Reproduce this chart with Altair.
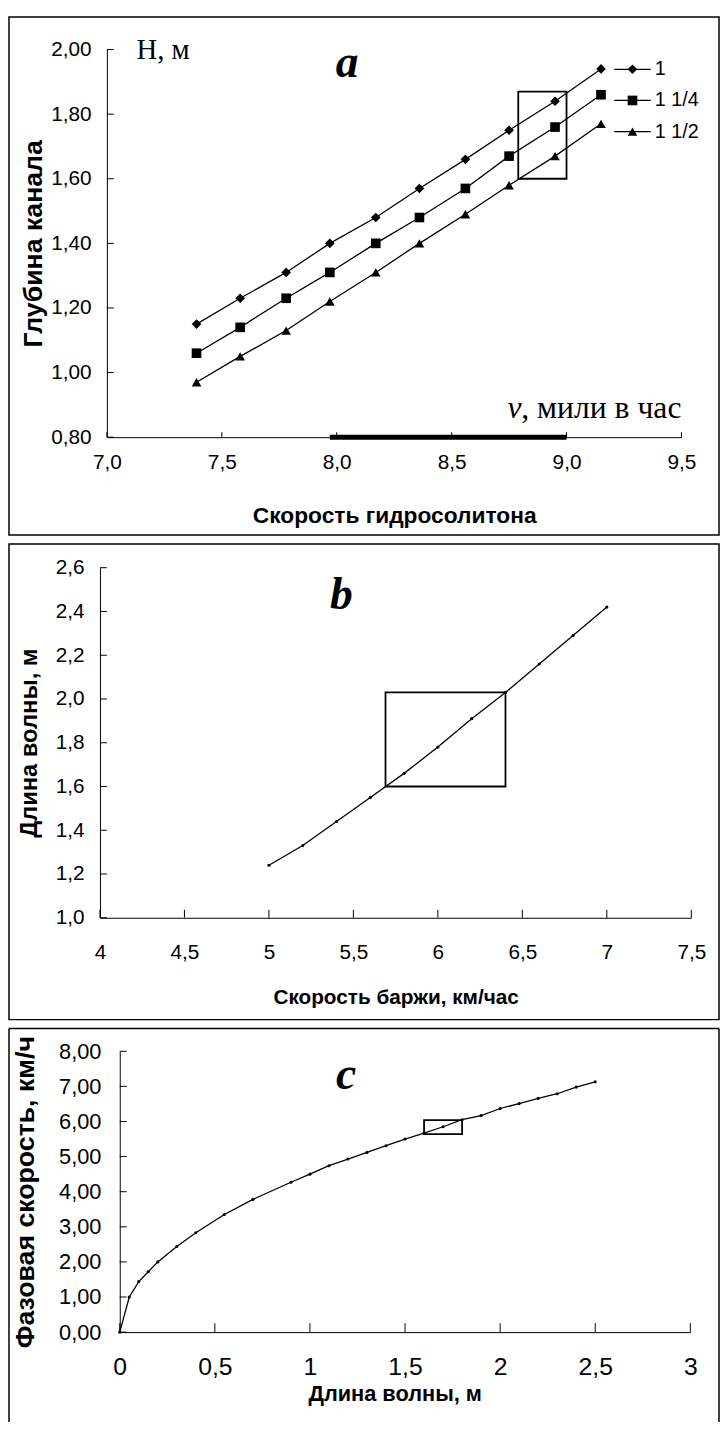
import altair as alt
import pandas as pd

# ---------------- Panel a data ----------------
a_speed = [7.39, 7.58, 7.78, 7.97, 8.17, 8.36, 8.56, 8.75, 8.95, 9.15]
a_series = ["1", "1 1/4", "1 1/2"]
a_depth_1 = [1.15, 1.23, 1.31, 1.40, 1.48, 1.57, 1.66, 1.75, 1.84, 1.94]
a_depth_2 = [1.06, 1.14, 1.23, 1.31, 1.40, 1.48, 1.57, 1.67, 1.76, 1.86]
a_depth_3 = [0.97, 1.05, 1.13, 1.22, 1.31, 1.40, 1.49, 1.58, 1.67, 1.77]
a_x_ticks = [7.0, 7.5, 8.0, 8.5, 9.0, 9.5]
a_y_ticks = [0.8, 1.0, 1.2, 1.4, 1.6, 1.8, 2.0]
a_box_x = [8.79, 9.00]
a_box_y = [1.60, 1.87]
a_bar_x = [7.97, 9.00]

# ---------------- Panel b data ----------------
b_speed = [5.0, 5.2, 5.4, 5.6, 5.8, 6.0, 6.2, 6.4, 6.6, 6.8, 7.0]
b_length = [1.24, 1.33, 1.44, 1.55, 1.66, 1.78, 1.91, 2.03, 2.16, 2.29, 2.42]
b_x_ticks = [4, 4.5, 5, 5.5, 6, 6.5, 7, 7.5]
b_y_ticks = [1.0, 1.2, 1.4, 1.6, 1.8, 2.0, 2.2, 2.4, 2.6]
b_box_x = [5.69, 6.40]
b_box_y = [1.60, 2.03]

# ---------------- Panel c data ----------------
c_length = [0, 0.05, 0.1, 0.15, 0.2, 0.3, 0.4, 0.55, 0.7, 0.9, 1.0, 1.1, 1.2,
            1.3, 1.4, 1.5, 1.6, 1.7, 1.8, 1.9, 2.0, 2.1, 2.2, 2.3, 2.4, 2.5]
c_speed = [0, 1.0, 1.44, 1.72, 2.0, 2.44, 2.83, 3.35, 3.78, 4.27, 4.5, 4.74, 4.93,
           5.12, 5.31, 5.5, 5.67, 5.85, 6.05, 6.17, 6.37, 6.51, 6.66, 6.79, 6.98, 7.13]
c_x_ticks = [0, 0.5, 1, 1.5, 2, 2.5, 3]
c_y_ticks = [0, 1, 2, 3, 4, 5, 6, 7, 8]
c_box_x = [1.60, 1.80]
c_box_y = [5.64, 6.04]

LABEL_FONT = "Liberation Sans Narrow, Liberation Sans, Arial"
TITLE_FONT = "Liberation Sans, Arial"
SERIF = "Liberation Serif, Times New Roman"
FW = 718  # panel frame width
LW = 1.3  # data line width


def axis(values, fmt, lsize, lpad, title, tsize, **kw):
    return alt.Axis(
        values=values,
        labelExpr=f"replace(format(datum.value, '{fmt}'), '.', ',')",
        labelFont=LABEL_FONT, labelFontSize=lsize, labelColor="black",
        labelPadding=lpad, labelFlush=False, labelOverlap=False,
        ticks=False, tickSize=0, grid=False,
        domainColor="black", domainWidth=1,
        title=title, titleFont=TITLE_FONT, titleFontSize=tsize,
        titleFontWeight="bold", titleColor="black", **kw)


def one(**cols):
    return pd.DataFrame({k: [v] for k, v in cols.items()})


def label(text, x, y, **kw):
    return alt.Chart(one(t=text)).mark_text(color="black", **kw).encode(
        text="t:N", x=alt.value(x), y=alt.value(y))


def rule(x1, x2, y1, y2, w=1.5):
    return alt.Chart(one(f=0)).mark_rule(color="black", strokeWidth=w).encode(
        x=alt.value(x1), x2=alt.value(x2), y=alt.value(y1), y2=alt.value(y2))


def frame(h):
    return alt.Chart(one(f=0)).mark_rect(
        fillOpacity=0, stroke="black", strokeWidth=1.5).encode(
        x=alt.value(0), x2=alt.value(FW), y=alt.value(0), y2=alt.value(h))


def ticks(vals, enc, pos, length, xdir):
    df = pd.DataFrame({"t": vals})
    if xdir:
        return alt.Chart(df).mark_rule(color="black").encode(
            x=enc("t"), y=alt.value(pos), y2=alt.value(pos - length))
    return alt.Chart(df).mark_rule(color="black").encode(
        y=enc("t"), x=alt.value(pos), x2=alt.value(pos + length))


def box(bx, by, xe, ye):
    return alt.Chart(one(x1=bx[0], x2=bx[1], y1=by[0], y2=by[1])).mark_rect(
        fillOpacity=0, stroke="black", strokeWidth=1.8).encode(
        x=xe("x1"), x2="x2", y=ye("y1"), y2="y2")


# ================= Panel a =================
HA = 524
AX0, AX1, AY0, AY1 = 99, 680, 425, 33       # plot range inside the frame
xa_scale = alt.Scale(domain=[7.0, 9.5], range=[AX0, AX1], nice=False, zero=False)
ya_scale = alt.Scale(domain=[0.8, 2.0], range=[AY0, AY1], nice=False, zero=False)
xa_axis = axis(a_x_ticks, ".1f", 21, 15, "Скорость гидросолитона", 23,
               offset=-(HA - AY0), titleY=86, titleBaseline="alphabetic")
ya_axis = axis(a_y_ticks, ".2f", 21, 16, "Глубина канала", 27,
               offset=-AX0, titleX=-74, titleAngle=270, titleBaseline="middle")


def xa(f):
    return alt.X(f, type="quantitative", scale=xa_scale, axis=xa_axis)


def ya(f):
    return alt.Y(f, type="quantitative", scale=ya_scale, axis=ya_axis)


df_a = pd.DataFrame({
    "speed": a_speed * 3,
    "depth": a_depth_1 + a_depth_2 + a_depth_3,
    "series": [s for s in a_series for _ in a_speed],
})
shape_scale = alt.Scale(domain=a_series, range=["diamond", "square", "triangle-up"])

a_bar = alt.Chart(one(x1=a_bar_x[0], x2=a_bar_x[1], y=a_y_ticks[0])).mark_rule(
    color="black", strokeWidth=5).encode(x=xa("x1"), x2="x2", y=ya("y"))

main_a = alt.layer(
    frame(HA),
    alt.Chart(df_a).mark_line(color="black", strokeWidth=LW).encode(
        x=xa("speed"), y=ya("depth"), detail="series:N"),
    alt.Chart(df_a).mark_point(filled=True, color="black", opacity=1, size=95).encode(
        x=xa("speed"), y=ya("depth"),
        shape=alt.Shape("series:N", scale=shape_scale, legend=None)),
    box(a_box_x, a_box_y, xa, ya),
    a_bar,
    ticks(a_x_ticks, xa, AY0, 5, True),
    ticks(a_y_ticks, ya, AX0, 7, False),
    label("H, м", 129, 43, font=SERIF, fontSize=29, align="left", baseline="alphabetic"),
    label("a", 342, 61, font=SERIF, fontSize=46, fontWeight="bold", fontStyle="italic",
          align="center", baseline="alphabetic"),
    label("v", 504, 406, font=SERIF, fontSize=32, fontStyle="italic", align="left",
          baseline="alphabetic"),
    label(", мили в час", 518, 406, font=SERIF, fontSize=32, align="left",
          baseline="alphabetic"),
)

df_leg = pd.DataFrame({"series": a_series})
leg_y = alt.Y("series:N", sort=a_series,
              scale=alt.Scale(type="point", domain=a_series, range=[53, 116], padding=0),
              axis=None)
legend_a = alt.layer(
    alt.Chart(df_leg).mark_rule(color="black", strokeWidth=LW).encode(
        y=leg_y, x=alt.value(612), x2=alt.value(649)),
    alt.Chart(df_leg).mark_point(filled=True, color="black", opacity=1, size=95).encode(
        y=leg_y, x=alt.value(630.5),
        shape=alt.Shape("series:N", scale=shape_scale, legend=None)),
    alt.Chart(df_leg).mark_text(align="left", baseline="middle", font=LABEL_FONT,
                                fontSize=20, color="black").encode(
        y=leg_y, x=alt.value(653), text="series:N"),
)
panel_a = alt.layer(main_a, legend_a).resolve_scale(y="independent").properties(
    width=FW, height=HA)

# ================= Panel b =================
HB = 481
BX0, BX1, BY0, BY1 = 92, 690, 378, 24
xb_scale = alt.Scale(domain=[4.0, 7.5], range=[BX0, BX1], nice=False, zero=False)
yb_scale = alt.Scale(domain=[1.0, 2.6], range=[BY0, BY1], nice=False, zero=False)
xb_axis = axis(b_x_ticks, "~g", 21, 24, "Скорость баржи, км/час", 21,
               offset=-(HB - BY0), titleY=87, titleBaseline="alphabetic")
yb_axis = axis(b_y_ticks, ".1f", 21, 16, "Длина волны, м", 24,
               offset=-BX0, titleX=-71, titleAngle=270, titleBaseline="middle")


def xb(f):
    return alt.X(f, type="quantitative", scale=xb_scale, axis=xb_axis)


def yb(f):
    return alt.Y(f, type="quantitative", scale=yb_scale, axis=yb_axis)


df_b = pd.DataFrame({"speed": b_speed, "length": b_length})
panel_b = alt.layer(
    frame(HB),
    alt.Chart(df_b).mark_line(color="black", strokeWidth=LW).encode(x=xb("speed"), y=yb("length")),
    alt.Chart(df_b).mark_point(filled=True, color="black", opacity=1, size=10, shape="circle").encode(
        x=xb("speed"), y=yb("length")),
    box(b_box_x, b_box_y, xb, yb),
    ticks(b_x_ticks, xb, BY0, 8, True),
    ticks(b_y_ticks, yb, BX0, 7, False),
    label("b", 336, 66, font=SERIF, fontSize=46, fontWeight="bold", fontStyle="italic",
          align="center", baseline="alphabetic"),
).properties(width=FW, height=HB)

# ================= Panel c =================
HC = 398
CX0, CX1, CY0, CY1 = 112, 689, 307, 23
xc_scale = alt.Scale(domain=[0, 3], range=[CX0, CX1], nice=False, zero=False)
yc_scale = alt.Scale(domain=[0, 8], range=[CY0, CY1], nice=False, zero=False)
xc_axis = axis(c_x_ticks, "~g", 25, 23, "Длина волны, м", 22,
               offset=-(HC - CY0), titleY=69, titleX=390, titleBaseline="alphabetic")
yc_axis = axis(c_y_ticks, ".2f", 22, 19, "Фазовая скорость, км/ч", 27,
               offset=-CX0, titleX=-95, titleAngle=270, titleBaseline="middle")


def xc(f):
    return alt.X(f, type="quantitative", scale=xc_scale, axis=xc_axis)


def yc(f):
    return alt.Y(f, type="quantitative", scale=yc_scale, axis=yc_axis)


df_c = pd.DataFrame({"length": c_length, "speed": c_speed})
panel_c = alt.layer(
    rule(0, 0, 0, HC),
    rule(0, FW, 0, 0),
    rule(FW, FW, 0, HC),
    alt.Chart(df_c).mark_line(color="black", strokeWidth=LW).encode(x=xc("length"), y=yc("speed")),
    alt.Chart(df_c).mark_point(filled=True, color="black", opacity=1, size=10, shape="circle").encode(
        x=xc("length"), y=yc("speed")),
    box(c_box_x, c_box_y, xc, yc),
    ticks(c_x_ticks, xc, CY0, 9, True),
    ticks(c_y_ticks, yc, CX0, 7, False),
    label("c", 341, 61, font=SERIF, fontSize=46, fontWeight="bold", fontStyle="italic",
          align="center", baseline="alphabetic"),
).properties(width=FW, height=HC)

chart = alt.concat(panel_a, panel_b, panel_c, columns=1, spacing=7,
                   align="none", bounds="full").properties(
    padding=0, background="white"
).configure_view(stroke=None)

chart.save("out.html", embed_options={"renderer": "svg", "actions": False})
